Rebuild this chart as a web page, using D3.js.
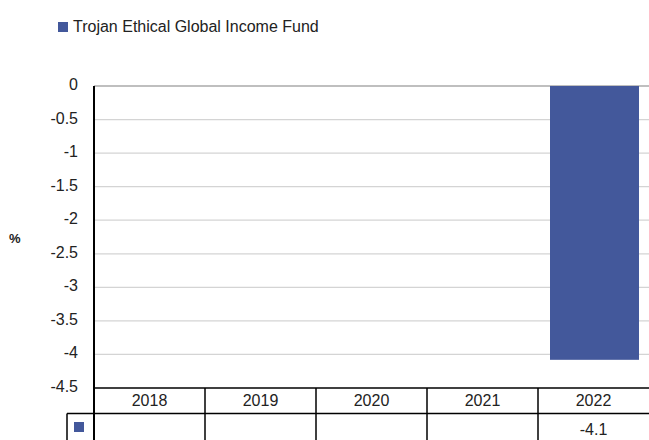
<!DOCTYPE html>
<html>
<head>
<meta charset="utf-8">
<script src="https://cdn.jsdelivr.net/npm/d3@7"></script>
<style>
body { margin: 0; background: #fff; }
text { font-family: "Liberation Sans", Arial, sans-serif; fill: #222; }
</style>
</head>
<body>
<svg width="649" height="440"></svg>
<script>
var years = ["2018", "2019", "2020", "2021", "2022"];
var fundValues = [null, null, null, null, -4.08];
var fundLabels = ["", "", "", "", "-4.1"];
var yTicks = [0, -0.5, -1, -1.5, -2, -2.5, -3, -3.5, -4, -4.5];
var seriesName = "Trojan Ethical Global Income Fund";
var barColor = "#43589b";

var svg = d3.select("svg");
var plotLeft = 94, plotRight = 649, plotTop = 86, plotBottom = 388;

var x = d3.scaleBand().domain(years).range([plotLeft, plotRight]);
var y = d3.scaleLinear().domain([0, -4.5]).range([plotTop, plotBottom]);

// gridlines
svg.selectAll(".grid").data(yTicks.slice(0, -1)).enter().append("line")
    .attr("x1", plotLeft).attr("x2", plotRight)
    .attr("y1", function(d) { return y(d); })
    .attr("y2", function(d) { return y(d); })
    .attr("stroke", function(d) { return d === 0 ? "#aaa" : "#d4d4d4"; })
    .attr("stroke-width", 1.3);

// y labels
svg.selectAll(".ylab").data(yTicks).enter().append("text")
    .attr("x", 78)
    .attr("y", function(d) { return y(d) + 4; })
    .attr("text-anchor", "end")
    .style("font-size", "16px")
    .text(function(d) { return d; });

svg.append("text").attr("x", 9).attr("y", 243)
    .style("font-size", "13px").style("font-weight", "bold").text("%");

// bars
var data = years.map(function(d, i) { return {year: d, v: fundValues[i]}; })
    .filter(function(d) { return d.v !== null; });
svg.selectAll(".bar").data(data).enter().append("rect")
    .attr("x", function(d) { return x(d.year) + 12; })
    .attr("width", x.bandwidth() - 22)
    .attr("y", y(0))
    .attr("height", function(d) { return y(d.v) - y(0); })
    .attr("fill", barColor);

// table
var row1 = plotBottom, row2 = 413.5, row3 = 440;
svg.append("line").attr("x1", plotLeft).attr("x2", plotRight).attr("y1", row1).attr("y2", row1)
    .attr("stroke", "#000").attr("stroke-width", 1.5);
svg.append("line").attr("x1", 67).attr("x2", plotRight).attr("y1", row2).attr("y2", row2)
    .attr("stroke", "#000").attr("stroke-width", 1.5);
svg.append("line").attr("x1", 67).attr("x2", 67).attr("y1", row2).attr("y2", row3)
    .attr("stroke", "#000").attr("stroke-width", 1.5);
svg.append("line").attr("x1", plotLeft).attr("x2", plotLeft).attr("y1", plotTop).attr("y2", row3)
    .attr("stroke", "#000").attr("stroke-width", 2);
svg.selectAll(".vcol").data(years.slice(1)).enter().append("line")
    .attr("x1", function(d) { return x(d); }).attr("x2", function(d) { return x(d); })
    .attr("y1", row1).attr("y2", row3)
    .attr("stroke", "#000").attr("stroke-width", 1.5);

svg.selectAll(".xlab").data(years).enter().append("text")
    .attr("x", function(d) { return x(d) + x.bandwidth() / 2; })
    .attr("y", row1 + 18)
    .attr("text-anchor", "middle")
    .style("font-size", "16px")
    .text(function(d) { return d; });

svg.selectAll(".vlab").data(years).enter().append("text")
    .attr("x", function(d) { return x(d) + x.bandwidth() / 2; })
    .attr("y", row2 + 21)
    .attr("text-anchor", "middle")
    .style("font-size", "16px")
    .text(function(d, i) { return fundLabels[i]; });

svg.append("rect").attr("x", 74).attr("y", 422).attr("width", 10).attr("height", 10).attr("fill", barColor);

// legend
svg.append("rect").attr("x", 58).attr("y", 22).attr("width", 10).attr("height", 10).attr("fill", barColor);
svg.append("text").attr("x", 73).attr("y", 32).style("font-size", "16px").text(seriesName);
</script>
</body>
</html>
